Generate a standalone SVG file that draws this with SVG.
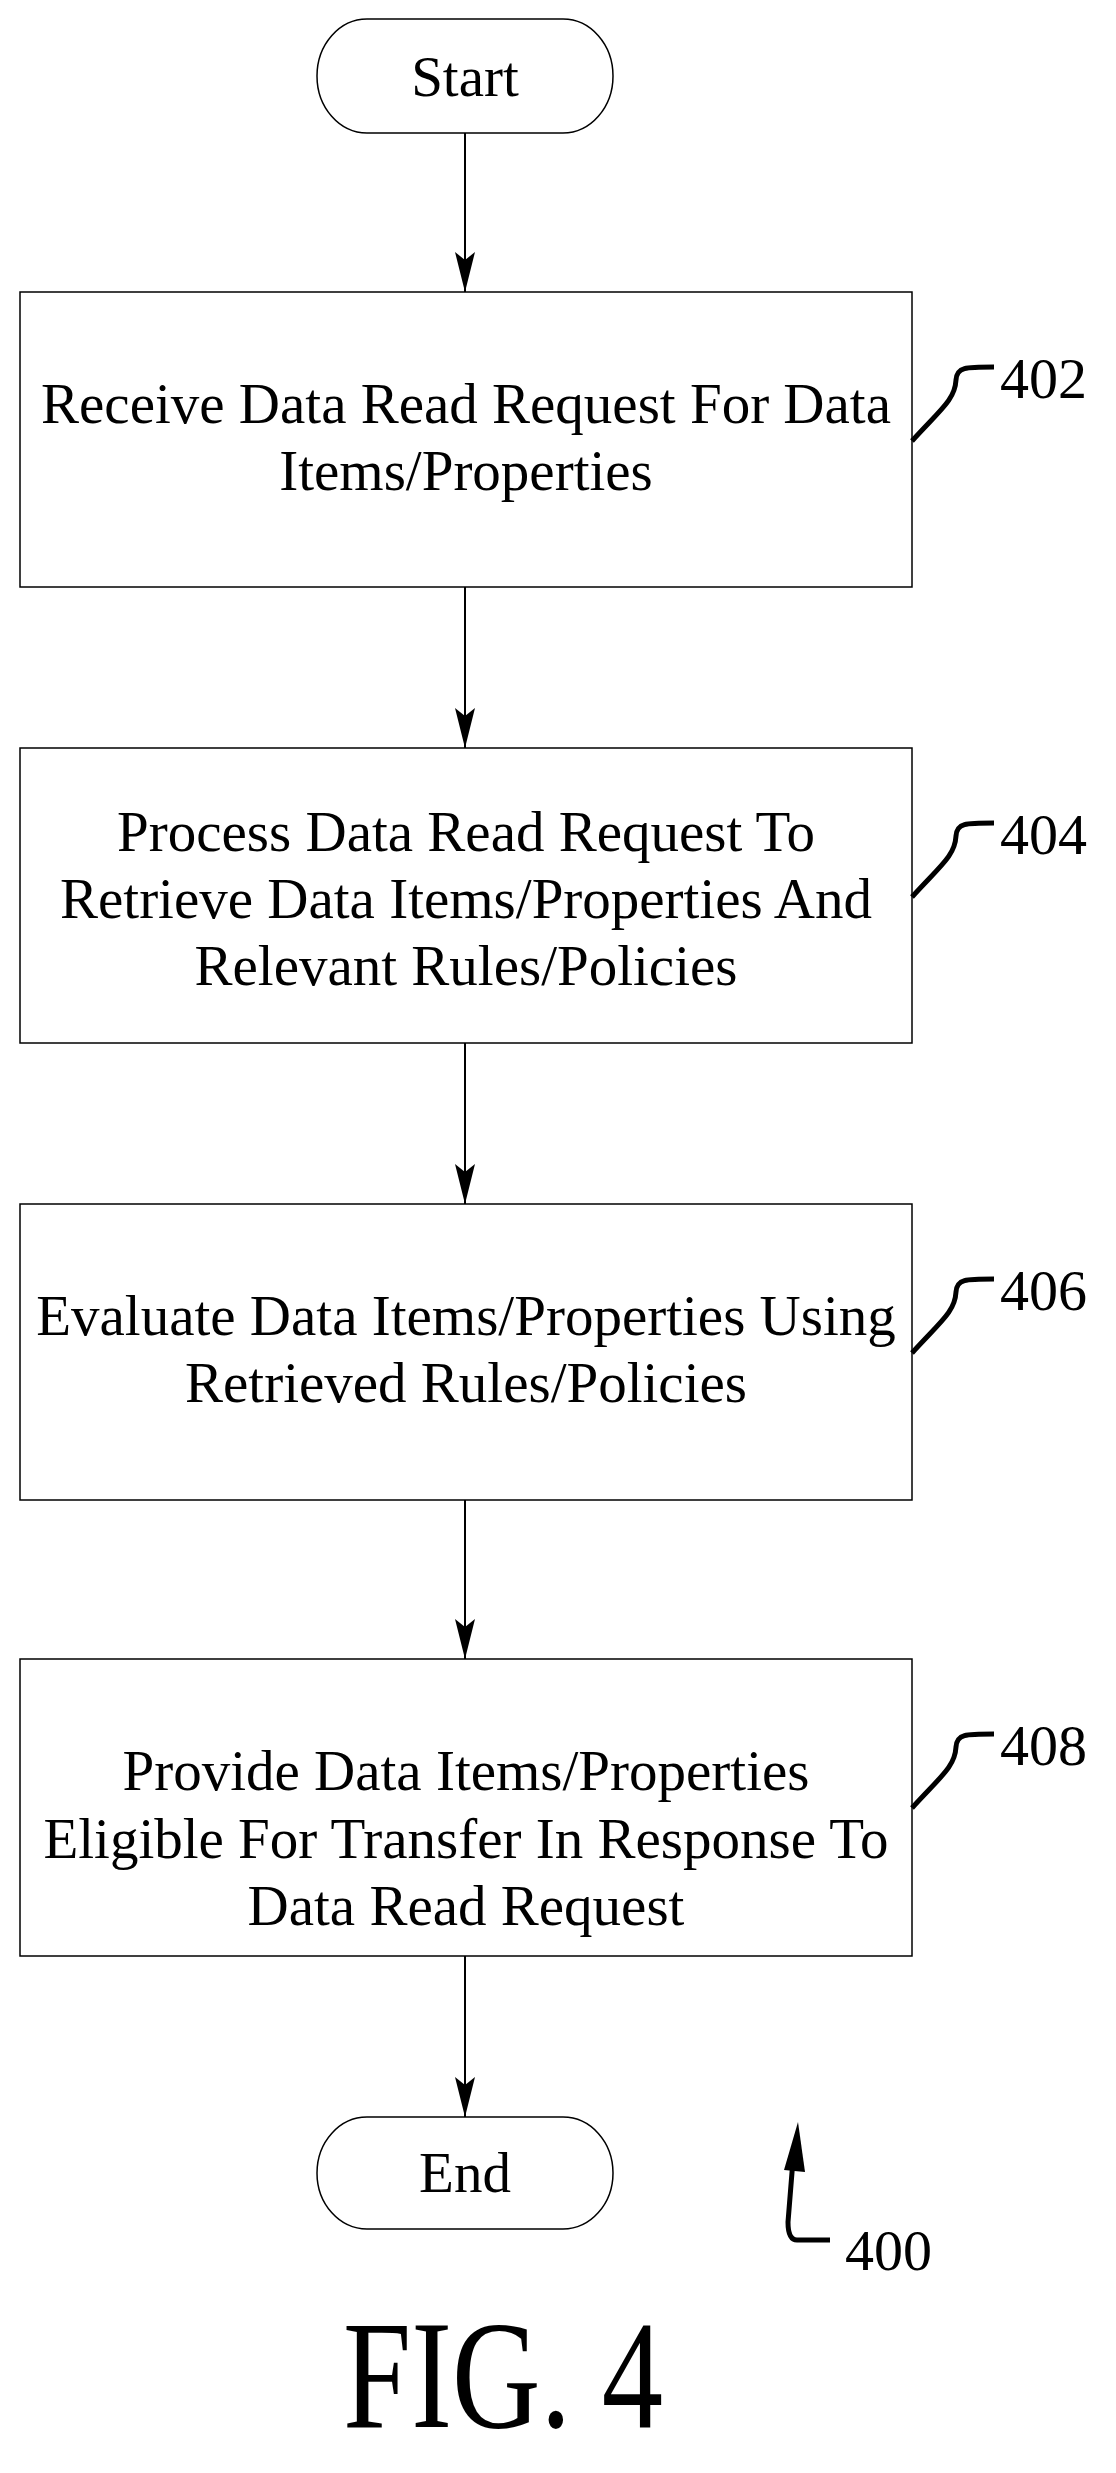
<svg xmlns="http://www.w3.org/2000/svg" width="1116" height="2473" viewBox="0 0 1116 2473">
<style>
.b{fill:#fff;stroke:#000;stroke-width:1.5}
.t{font-family:"Liberation Serif",serif;font-size:57px;text-anchor:middle;fill:#000}
.r{font-family:"Liberation Serif",serif;font-size:58px;fill:#000}
.c{fill:none;stroke:#000;stroke-width:2}
.s{fill:none;stroke:#000;stroke-width:5}
</style>
<defs>
<marker id="h" viewBox="0 0 40 20" refX="40" refY="10" markerWidth="40" markerHeight="20" markerUnits="userSpaceOnUse" orient="auto"><path d="M0,0 L40,10 L0,20 L8,10 Z" fill="#000"/></marker></defs>
<g id="start"><rect class="b" x="317" y="19" width="296" height="114" rx="50" ry="57"/><text class="t" x="465" y="96">Start</text></g>
<g id="n402"><rect class="b" x="20" y="292" width="892" height="295"/><text class="t" x="466" y="423">Receive Data Read Request For Data</text><text class="t" x="466" y="490">Items/Properties</text><path class="s" d="M912,441 C940,410 955,400 956,380 C957,367 965,367 994,367"/><text class="r" x="1000" y="398">402</text></g>
<g id="n404"><rect class="b" x="20" y="748" width="892" height="295"/><text class="t" x="466" y="851">Process Data Read Request To</text><text class="t" x="466" y="918">Retrieve Data Items/Properties And</text><text class="t" x="466" y="985">Relevant Rules/Policies</text><path class="s" d="M912,897 C940,866 955,856 956,836 C957,823 965,823 994,823"/><text class="r" x="1000" y="854">404</text></g>
<g id="n406"><rect class="b" x="20" y="1204" width="892" height="296"/><text class="t" x="466" y="1335">Evaluate Data Items/Properties Using</text><text class="t" x="466" y="1402">Retrieved Rules/Policies</text><path class="s" d="M912,1353 C940,1322 955,1312 956,1292 C957,1279 965,1279 994,1279"/><text class="r" x="1000" y="1310">406</text></g>
<g id="n408"><rect class="b" x="20" y="1659" width="892" height="297"/><text class="t" x="466" y="1790">Provide Data Items/Properties</text><text class="t" x="466" y="1858">Eligible For Transfer In Response To</text><text class="t" x="466" y="1925">Data Read Request</text><path class="s" d="M912,1808 C940,1777 955,1767 956,1747 C957,1734 965,1734 994,1734"/><text class="r" x="1000" y="1765">408</text></g>
<g id="end"><rect class="b" x="317" y="2117" width="296" height="112" rx="50" ry="56"/><text class="t" x="465" y="2192">End</text></g>
<g id="connectors">
<line class="c" x1="465" y1="133" x2="465" y2="292" marker-end="url(#h)"/>
<line class="c" x1="465" y1="587" x2="465" y2="748" marker-end="url(#h)"/>
<line class="c" x1="465" y1="1043" x2="465" y2="1204" marker-end="url(#h)"/>
<line class="c" x1="465" y1="1500" x2="465" y2="1659" marker-end="url(#h)"/>
<line class="c" x1="465" y1="1956" x2="465" y2="2117" marker-end="url(#h)"/>
</g>
<g id="ref400"><path class="s" d="M830,2240 L797,2240 C790,2240 788,2232 788,2222 L793,2160"/><path d="M784,2170 L798,2122 L805,2172 Z" fill="#000"/><text class="r" x="845" y="2270">400</text></g>
<text x="343" y="2427" font-family="Liberation Serif,serif" font-size="155" textLength="320" lengthAdjust="spacingAndGlyphs">FIG. 4</text>
</svg>
